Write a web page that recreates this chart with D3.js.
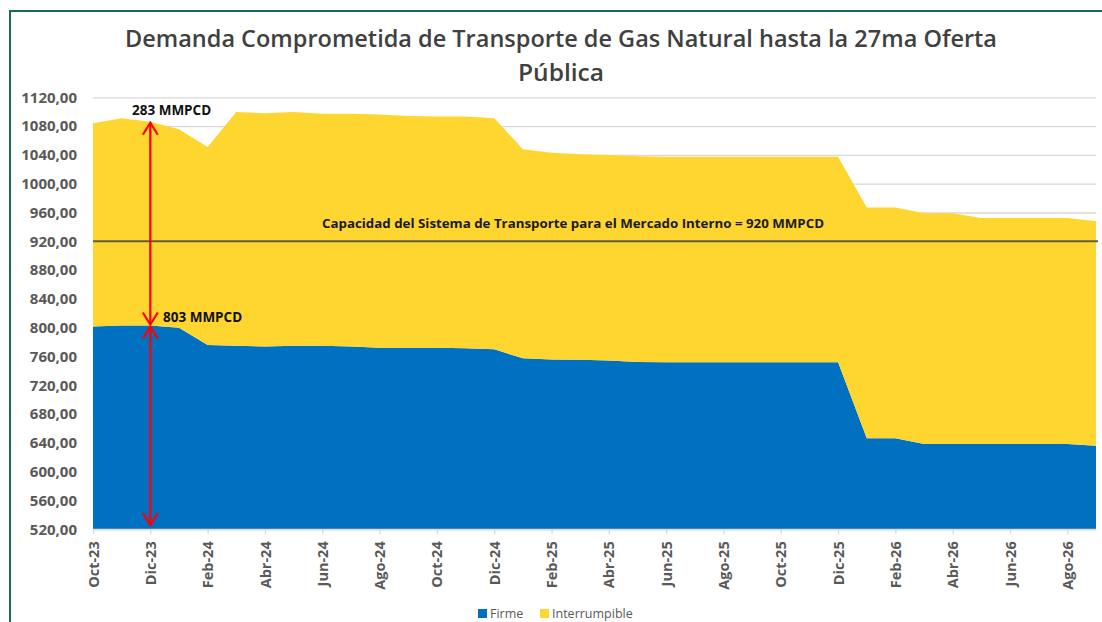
<!DOCTYPE html>
<html>
<head>
<meta charset="utf-8">
<script src="https://cdn.jsdelivr.net/npm/d3@7/dist/d3.min.js"></script>
<style>
  body { margin: 0; background: #fff; }
  text { font-family: "Open Sans", "Noto Sans", sans-serif; }
</style>
</head>
<body>
<svg id="chart" width="1102" height="622"></svg>
<script>
// months shown on the category axis
var months = ["Oct-23","Nov-23","Dic-23","Ene-24","Feb-24","Mar-24","Abr-24","May-24","Jun-24","Jul-24","Ago-24","Sep-24",
  "Oct-24","Nov-24","Dic-24","Ene-25","Feb-25","Mar-25","Abr-25","May-25","Jun-25","Jul-25","Ago-25","Sep-25",
  "Oct-25","Nov-25","Dic-25","Ene-26","Feb-26","Mar-26","Abr-26","May-26","Jun-26","Jul-26","Ago-26","Sep-26"];

// MMPCD
var firme = [801.5, 803, 803, 800, 776, 775, 774, 775, 775, 774, 772, 772,
  772, 771.5, 770, 757.5, 756, 755.5, 754.5, 752.5, 752, 752, 752, 752,
  752, 752, 752, 646.5, 646.5, 638.5, 638.5, 638.5, 638.5, 638.5, 638.5, 636];
var interrumpible = [282.5, 288, 283, 275.5, 275, 324.5, 324, 324.5, 322, 323, 324, 322,
  321.5, 322, 321, 290.5, 287, 285.5, 285.5, 285.5, 285.5, 285.5, 285.5, 285.5,
  285.5, 285.5, 285.5, 320.5, 320.5, 320.5, 320.5, 314, 314, 314, 314, 312];

var yTicks = [520, 560, 600, 640, 680, 720, 760, 800, 840, 880, 920, 960, 1000, 1040, 1080, 1120];
var capacidad = 920;
var seriesNames = ["Firme", "Interrumpible"];
var colors = { "Firme": "#0070C0", "Interrumpible": "#FFD530" };

var svg = d3.select("#chart");

// outer green frame (right/bottom fall outside the picture)
svg.append("rect")
  .attr("x", 10).attr("y", 11)
  .attr("width", 1200).attr("height", 700)
  .attr("fill", "none")
  .attr("stroke", "#1e6b4a")
  .attr("stroke-width", 2);

var plotLeft = 93, plotRight = 1096, plotTop = 97.3, plotBottom = 529.3;

var x = d3.scalePoint().domain(months).range([plotLeft, plotRight]);
var y = d3.scaleLinear().domain([520, 1120]).range([plotBottom, plotTop]);

// title
var title = svg.append("text")
  .attr("text-anchor", "middle")
  .attr("fill", "#404040")
  .attr("font-weight", 600)
  .attr("font-size", 23);
title.append("tspan").attr("x", 561).attr("y", 47)
  .attr("textLength", 872).attr("lengthAdjust", "spacingAndGlyphs")
  .text("Demanda Comprometida de Transporte de Gas Natural hasta la 27ma Oferta");
title.append("tspan").attr("x", 561).attr("y", 81)
  .attr("textLength", 86).attr("lengthAdjust", "spacingAndGlyphs")
  .text("Pública");

// gridlines
svg.append("g")
  .attr("transform", "translate(" + plotLeft + ",0)")
  .call(d3.axisLeft(y).tickValues(yTicks).tickSize(-(plotRight - plotLeft)).tickFormat(""))
  .call(function (g) { g.select(".domain").remove(); })
  .selectAll("line").attr("stroke", "#d9d9d9").attr("stroke-width", 1.3);

// stacked areas
var rows = months.map(function (m, i) {
  return { month: m, "Firme": firme[i], "Interrumpible": interrumpible[i] };
});
var stacked = d3.stack().keys(seriesNames)(rows);

svg.append("clipPath").attr("id", "plotClip")
  .append("rect").attr("x", plotLeft).attr("y", plotTop - 20)
  .attr("width", plotRight - plotLeft).attr("height", plotBottom - plotTop + 20);

var area = d3.area()
  .x(function (d) { return x(d.data.month); })
  .y0(function (d) { return y(d[0]); })
  .y1(function (d) { return y(d[1]); });

svg.append("g").attr("clip-path", "url(#plotClip)")
  .selectAll("path")
  .data(stacked)
  .join("path")
  .attr("fill", function (d) { return colors[d.key]; })
  .attr("d", area);

// y axis labels
svg.append("g")
  .attr("transform", "translate(" + 77 + ",0)")
  .call(d3.axisLeft(y).tickValues(yTicks).tickSize(0).tickPadding(0)
    .tickFormat(function (d) { return d3.format(".2f")(d).replace(".", ","); }))
  .call(function (g) { g.select(".domain").remove(); })
  .selectAll("text")
  .attr("fill", "#595959")
  .attr("font-size", 15)
  .attr("font-weight", 700)
  .style("font-family", "'Open Sans', sans-serif");

// x axis
var xTickVals = months.filter(function (m, i) { return i % 2 === 0; });
var xAxis = svg.append("g")
  .attr("transform", "translate(0," + plotBottom + ")")
  .call(d3.axisBottom(x).tickValues(xTickVals).tickSize(5).tickSizeOuter(0).tickPadding(0));
xAxis.select(".domain").attr("stroke", "#d9d9d9").attr("stroke-width", 1.3)
  .attr("d", "M" + plotLeft + ",0H" + plotRight);
xAxis.selectAll("line").attr("stroke", "#d9d9d9").attr("stroke-width", 1.3);
xAxis.selectAll("text")
  .attr("transform", "rotate(-90)")
  .attr("x", -12).attr("y", 0).attr("dy", "0.35em")
  .attr("text-anchor", "end")
  .attr("fill", "#595959")
  .attr("font-size", 14.5)
  .attr("font-weight", 700)
  .style("font-family", "'Open Sans', sans-serif");

// capacity line
svg.append("line")
  .attr("x1", plotLeft).attr("x2", plotRight + 2)
  .attr("y1", y(capacidad)).attr("y2", y(capacidad))
  .attr("stroke", "#5f5b45").attr("stroke-width", 2);

svg.append("text")
  .attr("x", 322).attr("y", 228)
  .attr("font-size", 13).attr("font-weight", 700).attr("fill", "#1a1a1a")
  .attr("textLength", 502).attr("lengthAdjust", "spacingAndGlyphs")
  .text("Capacidad del Sistema de Transporte para el Mercado Interno = " + capacidad + " MMPCD");

// red arrows
var defs = svg.append("defs");
defs.append("marker")
  .attr("id", "vhead")
  .attr("markerUnits", "userSpaceOnUse")
  .attr("viewBox", "-14 -9 16 18")
  .attr("refX", 0).attr("refY", 0)
  .attr("markerWidth", 16).attr("markerHeight", 18)
  .attr("orient", "auto-start-reverse")
  .append("path")
  .attr("d", "M-12,-7.5L0,0L-12,7.5")
  .attr("fill", "none").attr("stroke", "#ff0000").attr("stroke-width", 2.2);

var arrowX = x("Dic-23");
var topTotal = firme[2] + interrumpible[2];
svg.append("line")
  .attr("x1", arrowX).attr("x2", arrowX)
  .attr("y1", y(topTotal) + 1).attr("y2", y(firme[2]) - 1)
  .attr("stroke", "#ff0000").attr("stroke-width", 2.2)
  .attr("marker-start", "url(#vhead)").attr("marker-end", "url(#vhead)");
svg.append("line")
  .attr("x1", arrowX).attr("x2", arrowX)
  .attr("y1", y(firme[2]) + 1).attr("y2", y(526))
  .attr("stroke", "#ff0000").attr("stroke-width", 2.2)
  .attr("marker-start", "url(#vhead)").attr("marker-end", "url(#vhead)");

svg.append("text")
  .attr("x", 132).attr("y", 115)
  .attr("font-size", 13.5).attr("font-weight", 700).attr("fill", "#111")
  .text(Math.round(interrumpible[2]) + " MMPCD");
svg.append("text")
  .attr("x", 163).attr("y", 322)
  .attr("font-size", 13.5).attr("font-weight", 700).attr("fill", "#111")
  .text(Math.round(firme[2]) + " MMPCD");

// legend
var legend = svg.append("g");
var legendX = [478, 540];
seriesNames.forEach(function (name, i) {
  legend.append("rect")
    .attr("x", legendX[i]).attr("y", 609)
    .attr("width", 9).attr("height", 9)
    .attr("fill", colors[name]);
  legend.append("text")
    .attr("x", legendX[i] + 12).attr("y", 618)
    .attr("font-size", 12.5).attr("fill", "#595959")
    .text(name);
});
</script>
</body>
</html>
